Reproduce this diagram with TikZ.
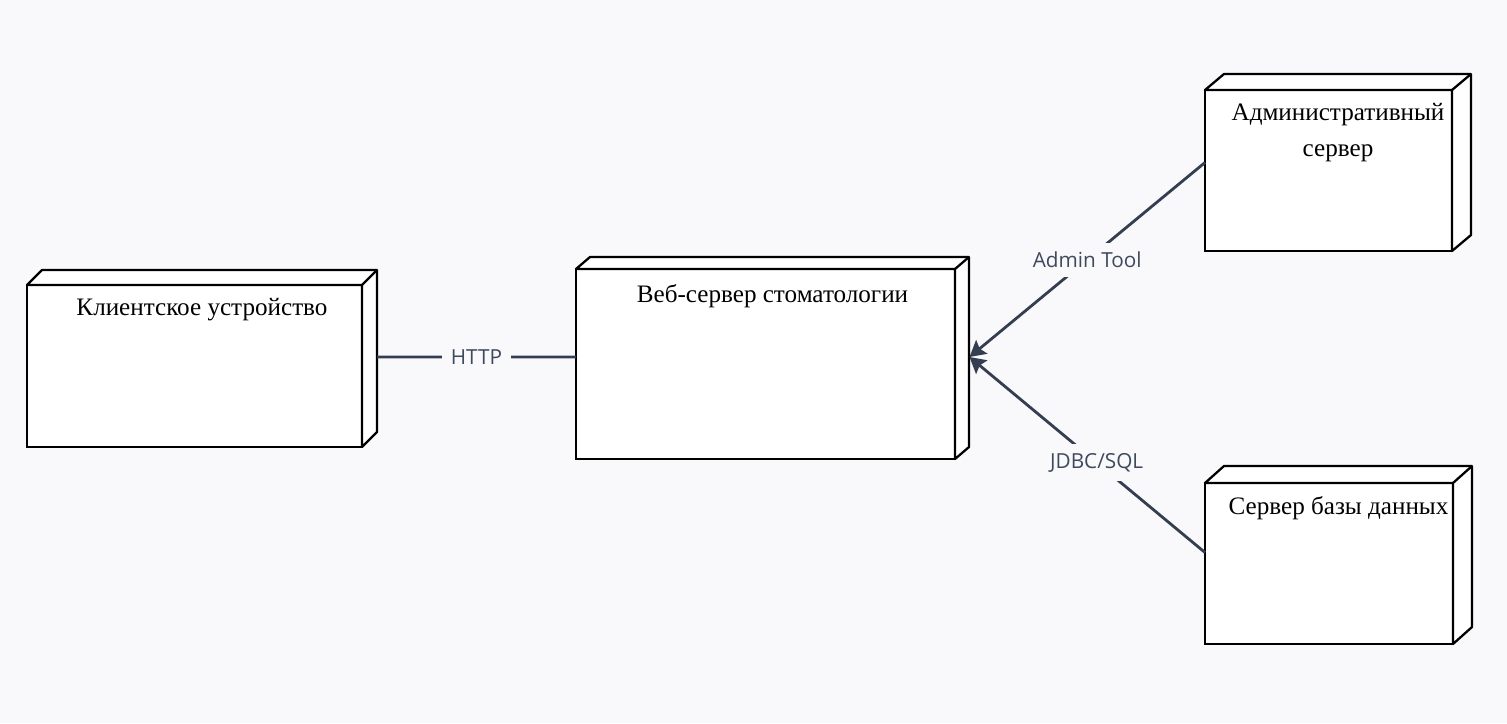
\documentclass[tikz,border=0pt]{standalone}
\usepackage{fontspec}
\setmainfont{Liberation Serif}
\newfontfamily\lblfont{Open Sans}
\usepackage{xcolor}
\usepackage{tikz}
\usetikzlibrary{arrows.meta,positioning}

\definecolor{bgcol}{HTML}{F9F9FB}
\definecolor{edgecol}{HTML}{353E51}
\definecolor{lblcol}{HTML}{3F495D}

\begin{document}
\begin{tikzpicture}[
    devbox/.style={rectangle, draw, fill=white, line width=1.3pt, outer sep=0pt},
    face/.style={draw, fill=white, line width=1.3pt, line join=round},
    title/.style={inner sep=0pt, align=center, font=\fontsize{14.3}{20.5}\selectfont},
    link/.style={draw=edgecol, line width=1.6pt},
    arrow/.style={link, -{Stealth[length=9pt,width=10pt,inset=1.5pt]}},
    tag/.style={fill=bgcol, text=lblcol, inner sep=5pt, font=\lblfont\fontsize{11.8}{14}\selectfont}]

    \fill[bgcol] (0,0) rectangle (30.14,-14.46);
    \useasboundingbox (0,0) rectangle (30.14,-14.46);

    \node[devbox, minimum width=6.70cm, minimum height=3.24cm] (cli) at (3.89,-7.32) {};
    \node[devbox, minimum width=7.58cm, minimum height=3.80cm] (web) at (15.31,-7.28) {};
    \node[devbox, minimum width=4.94cm, minimum height=3.22cm] (adm) at (26.57,-3.41) {};
    \node[devbox, minimum width=4.96cm, minimum height=3.22cm] (db) at (26.58,-11.27) {};

    % 3D faces of the nodes
    \foreach \nd/\dx/\dy in {cli/0.30/0.30, web/0.28/0.24, adm/0.38/0.32, db/0.38/0.34} {
        \draw[face] (\nd.north west) -- ++(\dx,\dy) -- ([shift={(\dx,\dy)}]\nd.north east)
            -- ([shift={(\dx,\dy)}]\nd.south east) -- (\nd.south east) -- (\nd.north east) -- cycle;
        \draw[face] (\nd.north east) -- ++(\dx,\dy);
    }

    \node[title, below=0.26cm of cli.north, xshift=0.15cm] (cli-t) {Клиентское устройство};
    \node[title, below=0.30cm of web.north, xshift=0.14cm] (web-t) {Веб-сервер стоматологии};
    \node[title, below=0.26cm of adm.north, xshift=0.19cm] (adm-t) {Административный\\сервер};
    \node[title, below=0.26cm of db.north, xshift=0.19cm] (db-t) {Сервер базы данных};

    \draw[link] ([xshift=0.30cm,yshift=0.18cm]cli.east) -- node[tag] (http) {HTTP} ([yshift=0.14cm]web.west);
    \draw[arrow] ([yshift=0.16cm]adm.west) -- node[tag] (admt) {Admin Tool} ([xshift=0.29cm,yshift=0.14cm]web.east);
    \draw[arrow] ([yshift=0.22cm]db.west) -- node[tag, pos=0.46] (jdbc) {JDBC/SQL} ([xshift=0.29cm,yshift=0.14cm]web.east);
\end{tikzpicture}
\end{document}
